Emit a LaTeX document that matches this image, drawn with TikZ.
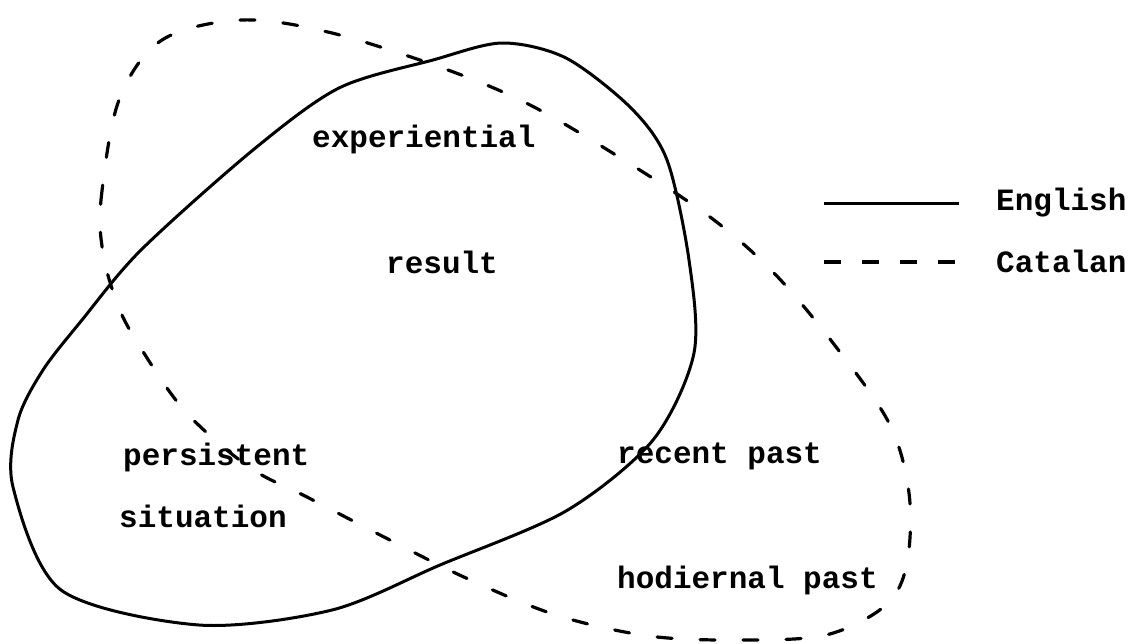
\documentclass[tikz,border=0pt]{standalone}
\usepackage{fontspec}
\newfontfamily\labelfont{Liberation Mono}
\begin{document}
\begin{tikzpicture}[x=1pt,y=-1pt,
  lbl/.style={anchor=base west,inner sep=0pt,font=\labelfont\bfseries\fontsize{31}{36}\selectfont},
  english/.style={line width=3pt,line join=round},
  catalan/.style={line width=3.2pt,dash pattern=on 15pt off 28pt,line cap=round}]
\useasboundingbox (0,0) rectangle (1132,643);
% English (solid)
\draw[english] plot[smooth cycle,tension=0.5] coordinates {
 (82,320) (141,250) (253,150) (339,88) (433,60) (502,43) (566,58) (631,108)
 (667,160) (689,260) (694,353) (653,440) (566,511) (440,565) (332,610)
 (199,625) (61,590) (13,487) (18,420) (43,370)};
% Catalan (dashed)
\draw[catalan] plot[smooth cycle,tension=0.55] coordinates {
 (103,253) (101,200) (119,100) (162,40) (242,20) (332,33) (448,70) (534,107)
 (635,167) (714,220) (774,273) (833,343) (889,423) (909,493) (907,563)
 (886,605) (826,635) (739,640) (649,636) (556,615) (466,578) (386,538)
 (307,497) (249,467) (184,410) (134,337) (116,300)};
% labels
\node[lbl] (exp) at (312,147) {experiential};
\node[lbl] (res) at (386,273) {result};
\node[lbl] (per) at (123,465) {persistent};
\node[lbl] (sit) at (119,527) {situation};
\node[lbl] (rec) at (617,463) {recent past};
\node[lbl] (hod) at (617,588) {hodiernal past};
% legend
\coordinate (e1) at (824,203);
\coordinate (e2) at (959,203);
\coordinate (c1) at (824,262);
\coordinate (c2) at (965,262);
\draw[english] (e1) -- (e2);
\draw[line width=3.2pt,dash pattern=on 17pt off 21pt] (c1) -- (c2);
\node[lbl] (eng) at (996,210) {English};
\node[lbl] (cat) at (996,272) {Catalan};
\end{tikzpicture}
\end{document}
